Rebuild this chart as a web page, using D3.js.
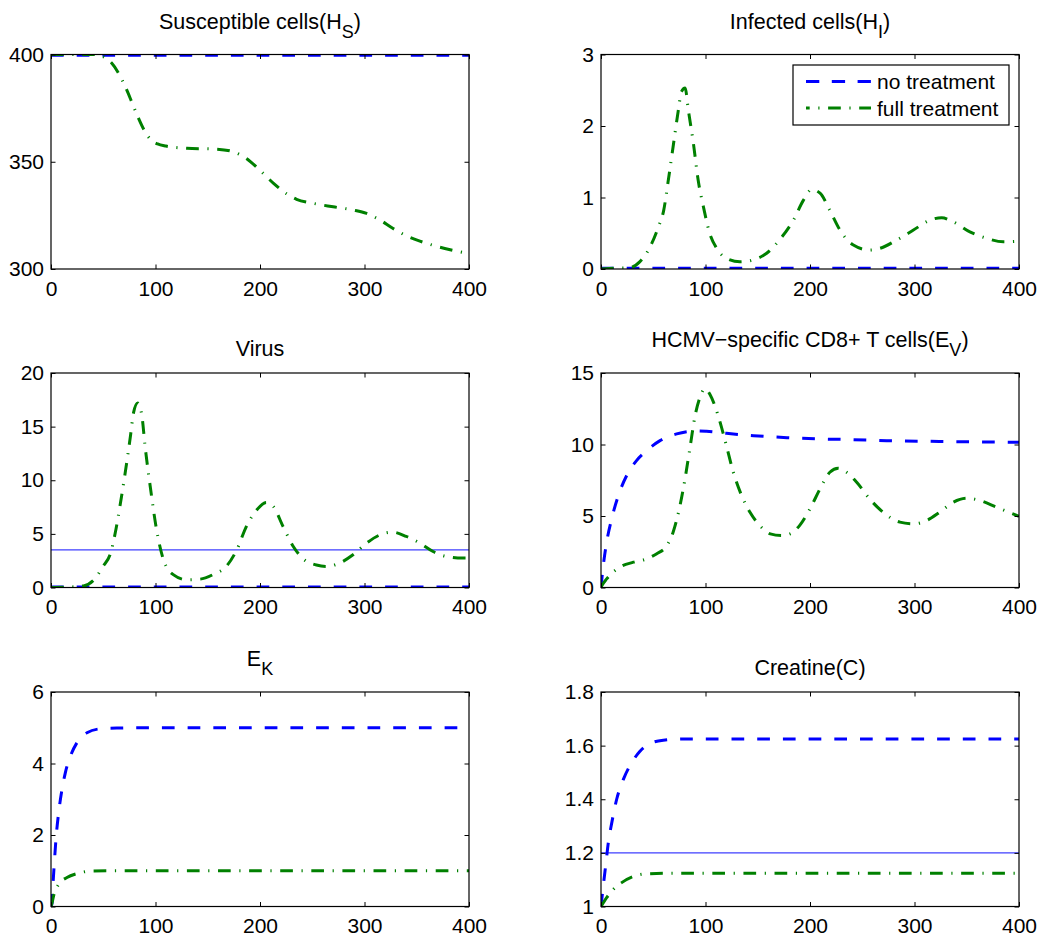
<!DOCTYPE html>
<html>
<head>
<meta charset="utf-8">
<script src="https://cdn.jsdelivr.net/npm/d3@7/dist/d3.min.js"></script>
<style>
  body { margin: 0; background: #fff; }
  svg { display: block; font-family: "Liberation Sans", Arial, Helvetica, sans-serif; }
</style>
</head>
<body>
<div id="chart"></div>
<script>
// values (time in days)
const xTicks = [0, 100, 200, 300, 400];

// susceptible cells
const hsNoneT = [0, 100, 200, 300, 400];
const hsNone = [399.7, 399.7, 399.7, 399.7, 399.7];
const hsFullT = [0, 20, 41, 52, 58, 65, 72, 78, 84, 90, 96, 102, 110, 130, 158, 174, 187, 200, 213, 225, 235, 251, 270, 289, 302, 315, 327, 340, 353, 366, 382, 400];
const hsFull = [400, 400, 400, 398.5, 396, 391, 384, 377, 370, 364, 360, 358.3, 357.3, 356.3, 355.9, 354.7, 351.5, 346, 339.9, 335.2, 332.5, 330.6, 329, 327.5, 325.9, 322.8, 319, 315.5, 313, 311, 309, 307.2];

// infected cells
const hiNoneT = [0, 100, 200, 300, 400];
const hiNone = [0.01, 0.01, 0.01, 0.01, 0.01];
const hiFullT = [0, 12, 28, 37, 47, 55, 60, 64.4, 69, 74, 77, 80.5, 83.6, 88.4, 93, 98, 104, 110.7, 120, 133, 146, 158.5, 171, 184, 193.6, 201.6, 209.6, 219, 228.7, 241.5, 257, 267, 283, 299, 315, 326, 337, 353, 369, 385, 400];
const hiFull = [0, 0.01, 0.02, 0.1, 0.31, 0.59, 0.82, 1.24, 1.71, 2.22, 2.48, 2.53, 2.22, 1.76, 1.24, 0.87, 0.5, 0.29, 0.15, 0.1, 0.13, 0.22, 0.41, 0.68, 0.96, 1.11, 1.06, 0.82, 0.545, 0.335, 0.265, 0.29, 0.405, 0.545, 0.685, 0.717, 0.66, 0.52, 0.43, 0.38, 0.39];

// virus
const vThreshold = 3.5;
const vNoneT = [0, 100, 200, 300, 400];
const vNone = [0.05, 0.05, 0.05, 0.05, 0.05];
const vFullT = [0, 15, 31, 41, 50, 57, 61.5, 66, 71, 76, 79, 83, 87, 90, 95, 101, 107.6, 117, 130, 142.7, 155, 168, 177.7, 187, 197, 206, 212.7, 222, 232, 241, 254, 263.7, 276, 289, 302, 314.6, 327, 340, 353, 365.6, 378, 394, 400];
const vFull = [0, 0.03, 0.15, 0.7, 2.0, 3.2, 5.1, 7.6, 10.7, 14.1, 16.3, 17.2, 16, 13.2, 9.4, 5.4, 2.6, 1.2, 0.72, 0.78, 1.2, 2.0, 3.5, 5.7, 7.25, 7.93, 7.56, 5.7, 3.8, 2.7, 2.1, 1.96, 2.27, 3.05, 4.14, 4.9, 5.16, 4.76, 4.14, 3.36, 2.9, 2.74, 2.74];

// HCMV-specific CD8+ T cells
const evNoneT = [0, 2.2, 5.4, 10.2, 16.6, 24.6, 34, 43.7, 56.5, 72.4, 91.5, 101, 120, 146, 178, 209.6, 241.5, 273.4, 305, 337, 400];
const evNone = [0, 1.54, 3.17, 4.8, 6.43, 7.83, 8.87, 9.57, 10.27, 10.74, 10.95, 10.92, 10.78, 10.62, 10.48, 10.39, 10.34, 10.27, 10.23, 10.2, 10.16];
const evFullT = [0, 1, 5.4, 18, 31, 43.7, 53, 63, 69, 75.6, 80.4, 85, 90, 94.7, 99.5, 104.3, 109, 114, 120, 126.6, 134.6, 142.6, 152, 162, 173, 181, 190, 200, 209.6, 219, 227, 235, 244.7, 257, 270, 286, 299, 311.6, 324, 337, 350, 362.7, 378.6, 400];
const evFull = [0, 0.15, 0.6, 1.42, 1.77, 2.0, 2.35, 2.93, 3.87, 5.73, 7.6, 9.7, 12.0, 13.3, 13.9, 13.5, 12.7, 11.55, 9.92, 8.06, 6.43, 5.26, 4.33, 3.75, 3.63, 3.75, 4.33, 5.5, 6.9, 8.06, 8.34, 8.06, 7.36, 6.2, 5.26, 4.57, 4.45, 4.68, 5.26, 5.96, 6.24, 6.08, 5.61, 4.98];

// E_K
const ekNoneT = [0, 1, 2, 3.2, 5, 7.3, 10.5, 13.7, 18.5, 24.8, 34.4, 47, 63, 100, 200, 300, 400];
const ekNone = [0, 0.1, 0.67, 1.23, 1.97, 2.62, 3.27, 3.74, 4.2, 4.58, 4.86, 4.97, 4.99, 5.0, 5.0, 5.0, 5.0];
const ekFullT = [0, 1, 2.5, 7.3, 15.3, 24.8, 37.6, 56.7, 100, 200, 300, 400];
const ekFull = [0, 0.1, 0.3, 0.62, 0.81, 0.92, 0.99, 1.0, 1.0, 1.0, 1.0, 1.0];

// creatine
const cThreshold = 1.2;
const cNoneT = [0, 2.2, 4.8, 7, 10.2, 15, 21.4, 29.3, 37.3, 46.9, 59.6, 82, 200, 300, 400];
const cNone = [1.0, 1.077, 1.164, 1.238, 1.31, 1.4, 1.474, 1.536, 1.579, 1.608, 1.62, 1.625, 1.625, 1.625, 1.625];
const cFullT = [0, 5.4, 11.8, 19.8, 31, 43.7, 66, 200, 300, 400];
const cFull = [1.0, 1.033, 1.064, 1.089, 1.112, 1.122, 1.124, 1.124, 1.124, 1.124];

const seriesNames = ["no treatment", "full treatment"];

// layout
const [W, H] = [1038, 936];
const colX = [51, 601];
const rowY = [54.5, 373, 692];
const [pw, ph] = [418, 214.5];
const fontSize = 21;
const titleSize = 21.5;

const styles = {
  none: { color: "#0000ff", dash: "12.7,13" },
  full: { color: "#008000", dash: "12.7,8.6,1.2,8.6" },
};

const panels = [
  { title: ["Susceptible cells(H", "S", ")"], col: 0, row: 0, yDomain: [300, 400], yTicks: [300, 350, 400],
    none: [hsNoneT, hsNone], full: [hsFullT, hsFull] },
  { title: ["Infected cells(H", "I", ")"], col: 1, row: 0, yDomain: [0, 3], yTicks: [0, 1, 2, 3],
    none: [hiNoneT, hiNone], full: [hiFullT, hiFull], legend: true },
  { title: ["Virus"], col: 0, row: 1, yDomain: [0, 20], yTicks: [0, 5, 10, 15, 20],
    none: [vNoneT, vNone], full: [vFullT, vFull], threshold: vThreshold },
  { title: ["HCMV\u2212specific CD8+ T cells(E", "V", ")"], col: 1, row: 1, yDomain: [0, 15], yTicks: [0, 5, 10, 15],
    none: [evNoneT, evNone], full: [evFullT, evFull] },
  { title: ["E", "K", ""], col: 0, row: 2, yDomain: [0, 6], yTicks: [0, 2, 4, 6],
    none: [ekNoneT, ekNone], full: [ekFullT, ekFull] },
  { title: ["Creatine(C)"], col: 1, row: 2, yDomain: [1, 1.8], yTicks: [1, 1.2, 1.4, 1.6, 1.8],
    none: [cNoneT, cNone], full: [cFullT, cFull], threshold: cThreshold },
];

const svg = d3
  .select("#chart")
  .append("svg")
  .attr("width", W)
  .attr("height", H);

panels.forEach((p, i) => renderPanel(p, i));

function renderPanel(p, i) {
  const g = svg
    .append("g")
    .attr("transform", `translate(${colX[p.col]}, ${rowY[p.row]})`);

  const x = d3.scaleLinear().domain([0, 400]).range([0, pw]);
  const y = d3.scaleLinear().domain(p.yDomain).range([ph, 0]);

  // clip to the axes box
  g.append("clipPath")
    .attr("id", "clip" + i)
    .append("rect")
    .attr("width", pw)
    .attr("height", ph);

  const plot = g.append("g").attr("clip-path", `url(#clip${i})`);

  // thin reference line
  if (p.threshold !== undefined) {
    plot
      .append("line")
      .attr("x1", 0)
      .attr("x2", pw)
      .attr("y1", y(p.threshold))
      .attr("y2", y(p.threshold))
      .attr("stroke", "#3f3fff")
      .attr("stroke-width", 1.3);
  }

  const line = d3
    .line()
    .x((d) => x(d[0]))
    .y((d) => y(d[1]))
    .curve(d3.curveMonotoneX);

  ["none", "full"].forEach((key) => {
    const [ts, vs] = p[key];
    const pts = ts.map((t, j) => [t, vs[j]]);
    plot
      .append("path")
      .datum(pts)
      .attr("d", line)
      .attr("fill", "none")
      .attr("stroke", styles[key].color)
      .attr("stroke-width", 3)
      .attr("stroke-dasharray", styles[key].dash);
  });

  // axes, ticks point inward on all four sides
  const tickLen = 4.5;
  const fmt = (d) => String(d);
  const bottom = g
    .append("g")
    .attr("transform", `translate(0, ${ph})`)
    .call(
      d3.axisBottom(x).tickValues(xTicks).tickFormat(fmt).tickSizeInner(-tickLen).tickSizeOuter(0).tickPadding(12)
    );
  const left = g
    .append("g")
    .call(
      d3.axisLeft(y).tickValues(p.yTicks).tickFormat(fmt).tickSizeInner(-tickLen).tickSizeOuter(0).tickPadding(7)
    );
  g.append("g").call(
    d3.axisTop(x).tickValues(xTicks).tickSizeInner(-tickLen).tickSizeOuter(0).tickFormat("")
  );
  g.append("g")
    .attr("transform", `translate(${pw}, 0)`)
    .call(
      d3.axisRight(y).tickValues(p.yTicks).tickSizeInner(-tickLen).tickSizeOuter(0).tickFormat("")
    );

  g.selectAll(".domain").remove();
  g.selectAll(".tick line").attr("stroke", "#000").attr("stroke-width", 1);
  [bottom, left].forEach((a) =>
    a.selectAll("text").attr("font-size", fontSize).attr("font-family", null).attr("fill", "#000")
  );

  g.append("rect")
    .attr("width", pw)
    .attr("height", ph)
    .attr("fill", "none")
    .attr("stroke", "#000")
    .attr("stroke-width", 1.2);

  // title, with a subscript when there is one
  const hasSub = p.title.length > 1;
  const title = g
    .append("text")
    .attr("x", pw / 2)
    .attr("y", hasSub ? -26 : -17)
    .attr("text-anchor", "middle")
    .attr("font-size", titleSize);
  title.append("tspan").text(p.title[0]);
  if (hasSub) {
    title.append("tspan").attr("dy", 9).attr("font-size", 18).text(p.title[1]);
    title.append("tspan").attr("dy", -9).text(p.title[2]);
  }

  if (p.legend) renderLegend(g);
}

function renderLegend(g) {
  // legend box in panel coordinates
  const lx = 793 - colX[1];
  const ly = 65 - rowY[0];
  const leg = g.append("g").attr("transform", `translate(${lx}, ${ly})`);
  leg
    .append("rect")
    .attr("width", 216)
    .attr("height", 60)
    .attr("fill", "#fff")
    .attr("stroke", "#000")
    .attr("stroke-width", 1.2);
  ["none", "full"].forEach((key, i) => {
    const row = leg.append("g").attr("transform", `translate(0, ${16.5 + i * 26.5})`);
    row
      .append("line")
      .attr("x1", 13)
      .attr("x2", 78)
      .attr("stroke", styles[key].color)
      .attr("stroke-width", 3)
      .attr("stroke-dasharray", key === "none" ? "13.3,12.5" : styles[key].dash)
      .attr("stroke-dashoffset", key === "none" ? 0 : 9);
    row
      .append("text")
      .attr("x", 84)
      .attr("y", 7.5)
      .attr("font-size", fontSize)
      .text(seriesNames[i]);
  });
}
</script>
</body>
</html>
